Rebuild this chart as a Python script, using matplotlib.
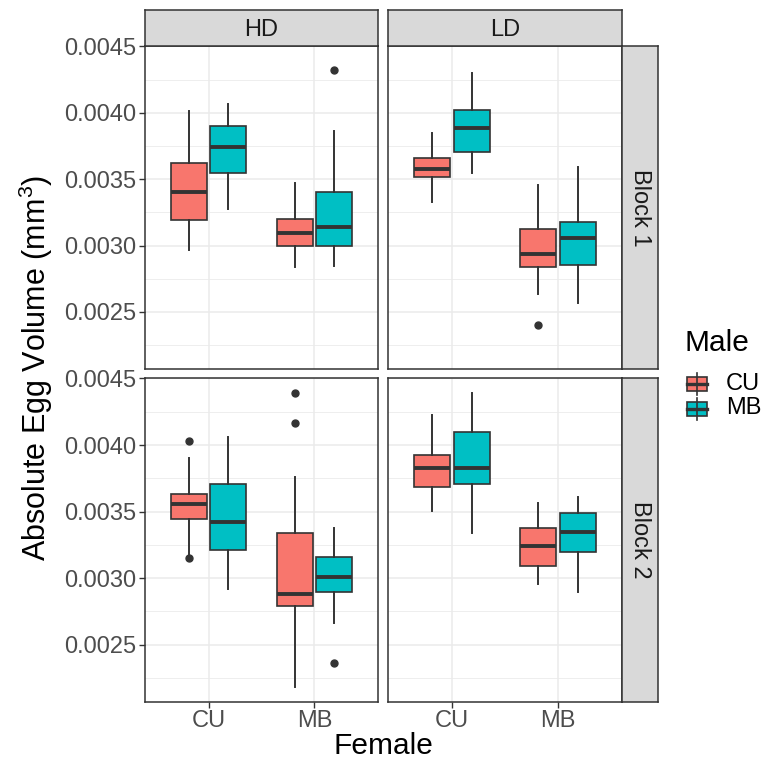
import numpy as np
import matplotlib
matplotlib.use("Agg")
import matplotlib.pyplot as plt
from matplotlib.patches import Rectangle

plt.rcParams['font.family'] = ['Liberation Sans', 'DejaVu Sans']
plt.rcParams['mathtext.fontset'] = 'custom'
plt.rcParams['mathtext.rm'] = 'Liberation Sans'
plt.rcParams['mathtext.default'] = 'regular'

# 数据 (whislo, q1, med, q3, whishi), order: CU-CU, CU-MB, MB-CU, MB-MB (Female-Male)
females = ["CU", "MB"]
males = ["CU", "MB"]
densities = ["HD", "LD"]
blocks = ["Block 1", "Block 2"]

b1_hd = [(0.002965, 0.003190, 0.003405, 0.003625, 0.004015),
         (0.003273, 0.003543, 0.003745, 0.003900, 0.004070),
         (0.002838, 0.002993, 0.003093, 0.003200, 0.003470),
         (0.002845, 0.003000, 0.003143, 0.003403, 0.003865)]
b1_hd_out = [[], [], [], [0.004323]]

b1_ld = [(0.003330, 0.003520, 0.003578, 0.003658, 0.003850),
         (0.003548, 0.003703, 0.003883, 0.004025, 0.004303),
         (0.002635, 0.002840, 0.002933, 0.003128, 0.003453),
         (0.002570, 0.002850, 0.003053, 0.003180, 0.003595)]
b1_ld_out = [[], [], [0.002403], []]

b2_hd = [(0.003170, 0.003443, 0.003560, 0.003630, 0.003900),
         (0.002915, 0.003210, 0.003423, 0.003708, 0.004063),
         (0.002180, 0.002790, 0.002880, 0.003338, 0.003763),
         (0.002665, 0.002893, 0.003010, 0.003160, 0.003375)]
b2_hd_out = [[0.004030, 0.003150], [], [0.004393, 0.004168], [0.002360]]

b2_ld = [(0.003505, 0.003685, 0.003825, 0.003928, 0.004225),
         (0.003340, 0.003705, 0.003828, 0.004098, 0.004390),
         (0.002953, 0.003088, 0.003238, 0.003378, 0.003565),
         (0.002893, 0.003193, 0.003343, 0.003493, 0.003610)]
b2_ld_out = [[], [], [], []]

male_colors = {"CU": "#F8766D", "MB": "#00BFC4"}

W, H = 765, 764
fig = plt.figure(figsize=(W / 100, H / 100), dpi=100)

def px(x0, y0, x1, y1):
    return [x0 / W, 1 - y1 / H, (x1 - x0) / W, (y1 - y0) / H]

# y range with ggplot-like 5% expansion
allv = [v for p in (b1_hd, b1_ld, b2_hd, b2_ld) for s in p for v in s]
allv += [v for p in (b1_hd_out, b1_ld_out, b2_hd_out, b2_ld_out) for o in p for v in o]
lo, hi = min(allv), max(allv)
ylim = (lo - 0.05 * (hi - lo), hi + 0.05 * (hi - lo))

panels = {("Block 1", "HD"): (b1_hd, b1_hd_out), ("Block 1", "LD"): (b1_ld, b1_ld_out),
          ("Block 2", "HD"): (b2_hd, b2_hd_out), ("Block 2", "LD"): (b2_ld, b2_ld_out)}
xcols = {"HD": (145, 378), "LD": (388, 622)}
yrows = {"Block 1": (46, 369), "Block 2": (378, 702)}

dark = "#333333"
for b in blocks:
    for d in densities:
        x0, x1 = xcols[d]
        y0, y1 = yrows[b]
        ax = fig.add_axes(px(x0, y0, x1, y1))
        data, outs = panels[(b, d)]
        stats, pos, cols = [], [], []
        i = 0
        for fi, f in enumerate(females):
            for mi, m in enumerate(males):
                s = data[i]
                stats.append(dict(whislo=s[0], q1=s[1], med=s[2], q3=s[3], whishi=s[4],
                                  fliers=outs[i]))
                pos.append(fi + 1 + (mi - 0.5) * 0.375)
                cols.append(male_colors[m])
                i += 1
        bp = ax.bxp(stats, positions=pos, widths=0.34, patch_artist=True, showcaps=False,
                    boxprops=dict(edgecolor=dark, linewidth=1.2),
                    whiskerprops=dict(color=dark, linewidth=1.4),
                    medianprops=dict(color=dark, linewidth=2.8, solid_capstyle='butt'),
                    flierprops=dict(marker='o', markerfacecolor=dark, markeredgecolor=dark,
                                    markersize=5))
        for patch, c in zip(bp['boxes'], cols):
            patch.set_facecolor(c)
        ax.set_xlim(0.4, 2.6)
        ax.set_ylim(*ylim)
        ax.set_yticks([0.0025, 0.0030, 0.0035, 0.0040, 0.0045])
        ax.set_yticks(np.arange(0.00225, 0.0045, 0.0005), minor=True)
        ax.set_xticks([1, 2])
        ax.grid(True, which='major', color='#EBEBEB', linewidth=1.1)
        ax.grid(True, which='minor', axis='y', color='#EBEBEB', linewidth=0.6)
        ax.set_axisbelow(True)
        ax.tick_params(which='minor', length=0)
        ax.tick_params(which='major', length=4, color=dark, width=1, labelsize=17,
                       labelcolor='#4D4D4D', pad=2)
        if d == "HD":
            ax.set_yticklabels(["0.0025", "0.0030", "0.0035", "0.0040", "0.0045"])
        else:
            ax.tick_params(axis='y', length=0, labelleft=False)
        if b == "Block 2":
            ax.set_xticklabels(females)
        else:
            ax.tick_params(axis='x', length=0, labelbottom=False)
        for sp in ax.spines.values():
            sp.set_color(dark)
            sp.set_linewidth(1.1)
        # strips
        if b == "Block 1":
            sax = fig.add_axes(px(x0, 10, x1, 46))
            sax.set_facecolor('#D9D9D9')
            sax.set_xticks([]); sax.set_yticks([])
            for sp in sax.spines.values():
                sp.set_color(dark); sp.set_linewidth(1.1)
            sax.text(0.5, 0.45, d, ha='center', va='center', fontsize=17,
                     color='#1A1A1A', transform=sax.transAxes)
        if d == "LD":
            sax = fig.add_axes(px(622, y0, 658, y1))
            sax.set_facecolor('#D9D9D9')
            sax.set_xticks([]); sax.set_yticks([])
            for sp in sax.spines.values():
                sp.set_color(dark); sp.set_linewidth(1.1)
            sax.text(0.5, 0.5, b, ha='center', va='center', fontsize=17, rotation=-90,
                     color='#1A1A1A', transform=sax.transAxes)

fig.text(383 / W, 1 - 746 / H, "Female", ha='center', va='center', fontsize=21.5)
fig.text(36 / W, 1 - 368 / H, r"Absolute Egg Volume (mm$^3$)", ha='center', va='center',
         rotation=90, fontsize=22)

# legend
lax = fig.add_axes([0, 0, 1, 1])
lax.set_xlim(0, W); lax.set_ylim(H, 0); lax.axis('off')
lax.text(685, 343, "Male", ha='left', va='center', fontsize=21.5)
for k, m in enumerate(males):
    yc = 384 + k * 24.5
    lax.plot([697, 697], [yc - 11, yc + 11], color=dark, lw=1.2)
    lax.add_patch(Rectangle((687, yc - 7), 20, 14, facecolor=male_colors[m], edgecolor=dark, lw=1.2))
    lax.plot([687, 707], [yc, yc], color=dark, lw=2.4)
    lax.text(726, yc, m, ha='left', va='center', fontsize=17)

fig.savefig("out.png", dpi=100)
